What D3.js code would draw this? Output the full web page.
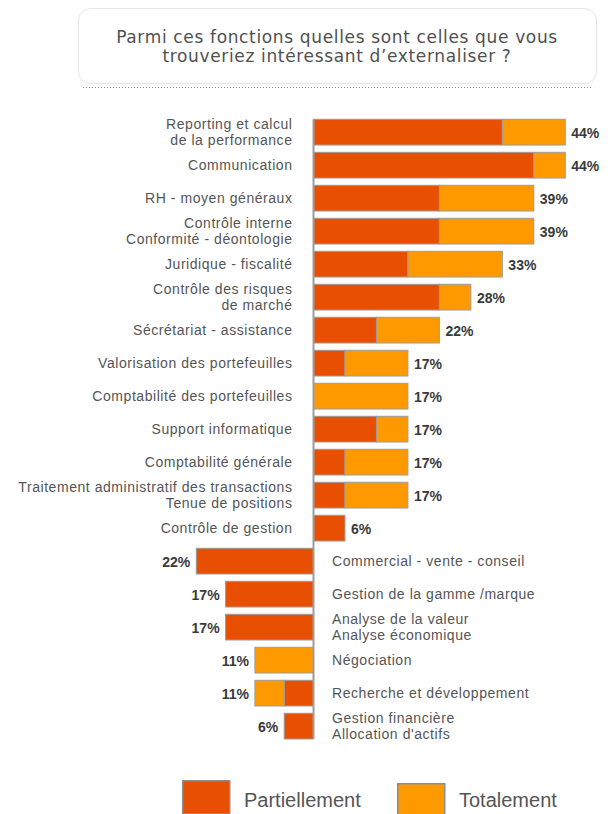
<!DOCTYPE html>
<html>
<head>
<meta charset="utf-8">
<script src="https://cdn.jsdelivr.net/npm/d3@7"></script>
<style>
  body { margin: 0; background: #fff; }
  svg { display: block; }
</style>
</head>
<body>
<svg id="chart" width="614" height="814"></svg>
<script>
// Survey question shown in the header box
const titleLines = [
  "Parmi ces fonctions quelles sont celles que vous",
  "trouveriez intéressant d’externaliser ?"
];

// Number of respondents (answers are counts out of this panel)
const respondents = 18;

// Functions drawn to the right of the axis
const externalCategories = [
  "Reporting et calcul\nde la performance",
  "Communication",
  "RH - moyen généraux",
  "Contrôle interne\nConformité - déontologie",
  "Juridique - fiscalité",
  "Contrôle des risques\nde marché",
  "Sécrétariat - assistance",
  "Valorisation des portefeuilles",
  "Comptabilité des portefeuilles",
  "Support informatique",
  "Comptabilité générale",
  "Traitement administratif des transactions\nTenue de positions",
  "Contrôle de gestion"
];
const externalPartial = [6, 7, 4, 4, 3, 4, 2, 1, 0, 2, 1, 1, 1];
const externalTotal   = [2, 1, 3, 3, 3, 1, 2, 2, 3, 1, 2, 2, 0];

// Functions drawn to the left of the axis
const internalCategories = [
  "Commercial - vente - conseil",
  "Gestion de la gamme /marque",
  "Analyse de la valeur\nAnalyse économique",
  "Négociation",
  "Recherche et développement",
  "Gestion financière\nAllocation d'actifs"
];
const internalPartial = [4, 3, 3, 0, 1, 1];
const internalTotal   = [0, 0, 0, 2, 1, 0];

const seriesNames  = ["Partiellement", "Totalement"];
const seriesColors = ["#e84f00", "#ff9900"];

const pct = c => c / respondents * 100;

const rows = [
  ...externalCategories.map((name, i) => ({
    name, side: 1, partial: pct(externalPartial[i]), total: pct(externalTotal[i])
  })),
  ...internalCategories.map((name, i) => ({
    name, side: -1, partial: pct(internalPartial[i]), total: pct(internalTotal[i])
  }))
];
rows.forEach(r => { r.sum = r.partial + r.total; });

const svg = d3.select("#chart");
const labelFont = "'Liberation Sans', Arial, sans-serif";

// ---- header box ----
const head = svg.append("g");
head.append("rect")
  .attr("x", 78.5).attr("y", 8.5)
  .attr("width", 518).attr("height", 75)
  .attr("rx", 12).attr("ry", 12)
  .attr("fill", "#fff")
  .attr("stroke", "#e6e6e6");
head.append("line")
  .attr("x1", 83).attr("x2", 593)
  .attr("y1", 87.5).attr("y2", 87.5)
  .attr("stroke", "#8a8a8a")
  .attr("stroke-dasharray", "1,2");
head.selectAll("text.title")
  .data(titleLines)
  .join("text")
  .attr("class", "title")
  .attr("x", 337)
  .attr("y", (d, i) => 43 + i * 19)
  .attr("text-anchor", "middle")
  .attr("font-family", "'DejaVu Sans', Verdana, sans-serif")
  .attr("font-size", 17)
  .attr("letter-spacing", 0.65)
  .attr("fill", "#505050")
  .text(d => d);

// ---- scales ----
const x = d3.scaleLinear()
  .domain([
    -d3.max(rows.filter(r => r.side < 0), r => r.sum),
    0,
    d3.max(rows.filter(r => r.side > 0), r => r.sum)
  ])
  .range([196.3, 313.5, 565.3]);

const y = d3.scaleBand()
  .domain(rows.map(r => r.name))
  .range([116, 742.3])
  .paddingInner(0.22)
  .paddingOuter(0.1);

// ---- bars ----
const segments = rows.flatMap(r => [
  { row: r, key: 0, from: 0, to: r.partial },
  { row: r, key: 1, from: r.partial, to: r.sum }
]).filter(s => s.to > s.from);

svg.append("g")
  .selectAll("rect")
  .data(segments)
  .join("rect")
  .attr("x", s => Math.min(x(s.row.side * s.from), x(s.row.side * s.to)))
  .attr("width", s => Math.abs(x(s.row.side * s.to) - x(s.row.side * s.from)))
  .attr("y", s => y(s.row.name))
  .attr("height", y.bandwidth())
  .attr("fill", s => seriesColors[s.key])
  .attr("stroke", "#9c9c9c")
  .attr("stroke-width", 1);

// ---- zero axis ----
svg.append("line")
  .attr("x1", x(0)).attr("x2", x(0))
  .attr("y1", y(rows[0].name))
  .attr("y2", y(rows[rows.length - 1].name) + y.bandwidth())
  .attr("stroke", "#9c9c9c")
  .attr("stroke-width", 2);

// ---- category labels ----
const lineGap = 16.2;
const cats = svg.append("g")
  .attr("font-family", labelFont)
  .attr("font-size", 14)
  .attr("letter-spacing", 0.55)
  .attr("fill", "#555");

rows.forEach(r => {
  const lines = r.name.split("\n");
  const cy = y(r.name) + y.bandwidth() / 2 + 5;
  const lx = r.side > 0 ? x(0) - 21 : x(0) + 18.5;
  const t = cats.append("text")
    .attr("text-anchor", r.side > 0 ? "end" : "start")
    .attr("x", lx);
  lines.forEach((ln, i) => {
    t.append("tspan")
      .attr("x", lx)
      .attr("y", cy + (i - (lines.length - 1) / 2) * lineGap)
      .text(ln);
  });
});

// ---- value labels ----
svg.append("g")
  .attr("font-family", labelFont)
  .attr("font-size", 14)
  .attr("font-weight", "bold")
  .attr("fill", "#3a3a3a")
  .selectAll("text")
  .data(rows)
  .join("text")
  .attr("text-anchor", r => r.side > 0 ? "start" : "end")
  .attr("x", r => x(r.side * r.sum) + r.side * 6)
  .attr("y", r => y(r.name) + y.bandwidth() / 2 + 6)
  .text(r => Math.round(r.sum) + "%");

// ---- legend ----
const legendX = [182, 397];
const legendY = [780, 783];
const legend = svg.append("g")
  .selectAll("g")
  .data(seriesNames)
  .join("g");
legend.append("rect")
  .attr("x", (d, i) => legendX[i] + 0.75)
  .attr("y", (d, i) => legendY[i] + 0.75)
  .attr("width", 47)
  .attr("height", 33)
  .attr("fill", (d, i) => seriesColors[i])
  .attr("stroke", "#8c8c8c")
  .attr("stroke-width", 1.5);
legend.append("text")
  .attr("x", (d, i) => legendX[i] + 62)
  .attr("y", 807)
  .attr("font-family", labelFont)
  .attr("font-size", 20)
  .attr("fill", "#555")
  .text(d => d);
</script>
</body>
</html>
